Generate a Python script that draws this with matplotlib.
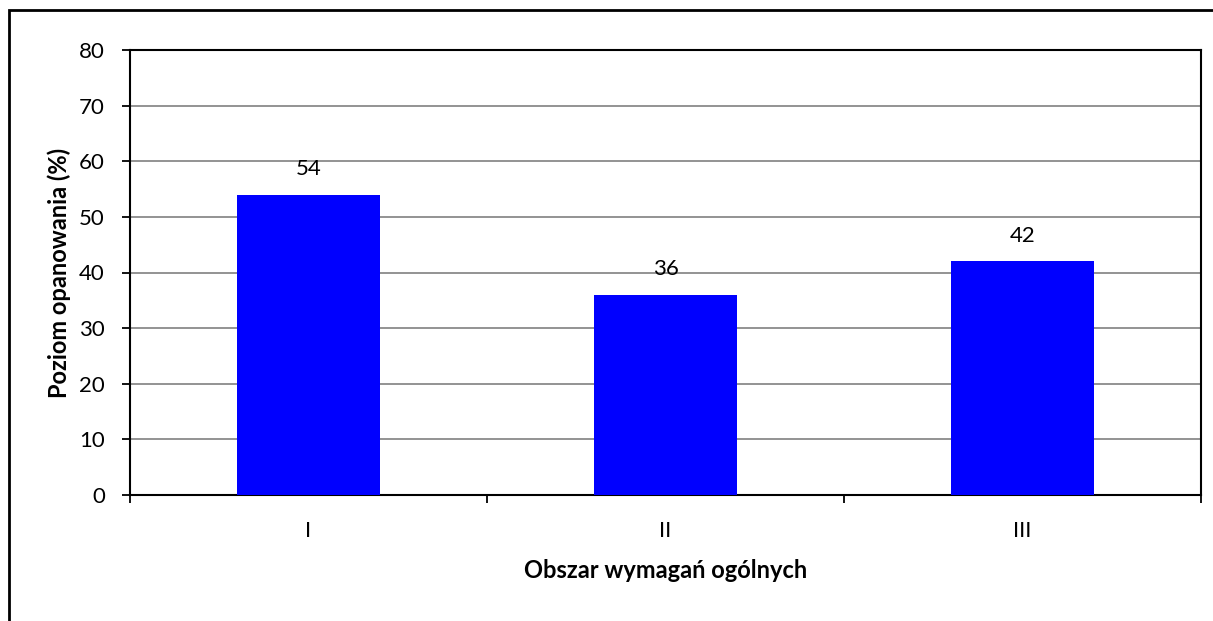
import matplotlib
matplotlib.use('Agg')
import matplotlib.pyplot as plt
from matplotlib.patches import Rectangle

categories = ['I', 'II', 'III']
values = [54, 36, 42]
yticks = [0, 10, 20, 30, 40, 50, 60, 70, 80]

plt.rcParams.update({'font.family': ['Lato', 'DejaVu Sans'], 'font.size': 16})

W, H = 1213, 621
fig = plt.figure(figsize=(W / 100, H / 100), dpi=100)
ax = fig.add_axes([130 / W, 1 - 495 / H, (1201 - 130) / W, (495 - 50) / H])

# outer chart frame (right and bottom edges fall outside the image)
fig.patches.append(Rectangle((9 / W, -0.05), 1.2, 1 - 10 / H + 0.05,
                             transform=fig.transFigure, fill=False,
                             edgecolor='black', lw=2))

x = list(range(len(categories)))
bars = ax.bar(x, values, width=0.4, color='#0000FF', zorder=3)
for b, v in zip(bars, values):
    ax.annotate(f'{v}', (b.get_x() + b.get_width() / 2, v), xytext=(0, 11),
                textcoords='offset points', ha='center', va='bottom', fontsize=16)

ax.set_xlim(-0.5, len(categories) - 0.5)
ax.set_ylim(0, 80)
ax.set_yticks(yticks)
ax.yaxis.grid(True, color='#808080', lw=1.2, zorder=0)
ax.set_xticks([i - 0.5 for i in range(len(categories) + 1)])
ax.set_xticklabels([])
ax.set_xticks(x, minor=True)
ax.set_xticklabels(categories, minor=True)
ax.tick_params(axis='x', which='minor', length=0, pad=19)
ax.tick_params(axis='both', which='major', length=6, width=1.3, direction='out')
ax.tick_params(axis='y', pad=12)
for s in ax.spines.values():
    s.set_linewidth(1.5)

ax.set_xlabel('Obszar wymagań ogólnych', fontweight='bold', fontsize=17, labelpad=13)
ax.set_ylabel('Poziom opanowania (%)', fontweight='bold', fontsize=17, labelpad=6)

fig.savefig('out.png', dpi=100)
